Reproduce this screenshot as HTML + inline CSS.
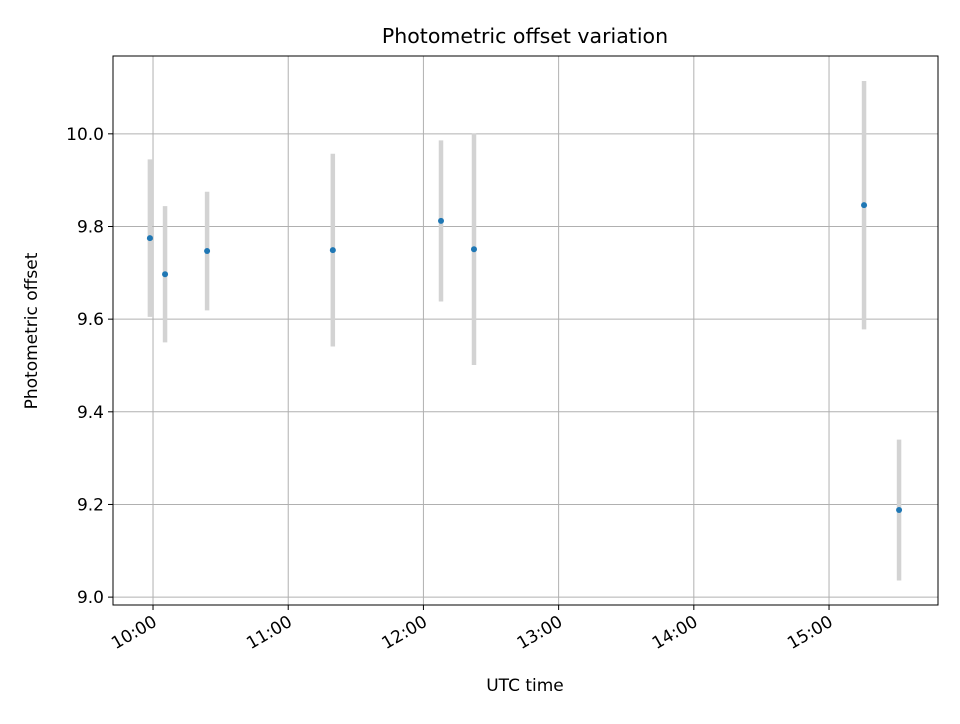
<!DOCTYPE html>
<html><head><meta charset="utf-8"><style>
body{margin:0;background:#fff;font-family:"DejaVu Sans","Liberation Sans",sans-serif}
</style></head><body>
<svg id="chart" width="960" height="720" xmlns="http://www.w3.org/2000/svg" style="font-family:'DejaVu Sans','Liberation Sans',sans-serif">
<rect width="960" height="720" fill="#fff"/>
<g id="grid"></g>
<g id="bars"></g>
<g id="pts"></g>
<rect x="113" y="56" width="825" height="549" fill="none" stroke="#000" stroke-width="1"/>
<g id="ticks"></g>
<text x="525" y="43" text-anchor="middle" style="font-size:20.5px">Photometric offset variation</text>
<text x="525" y="691" text-anchor="middle" style="font-size:17px">UTC time</text>
<text transform="translate(37,331) rotate(-90)" text-anchor="middle" style="font-size:17px">Photometric offset</text>
</svg>
<script>
const times=[9.977,10.089,10.40,11.33,12.13,12.374,15.259,15.518];
const values=[9.775,9.697,9.747,9.749,9.812,9.751,9.846,9.188];
const errors=[0.17,0.147,0.128,0.208,0.174,0.25,0.268,0.152];
const xTicks=[10,11,12,13,14,15];
const xTickLabels=["10:00","11:00","12:00","13:00","14:00","15:00"];
const yTicks=[9.0,9.2,9.4,9.6,9.8,10.0];
const yTickLabels=["9.0","9.2","9.4","9.6","9.8","10.0"];
const L=113,R=938,T=56,B=605,x0=9.704,x1=15.806,y0=8.983,y1=10.168;
const X=v=>L+(v-x0)/(x1-x0)*(R-L);
const Y=v=>B-(v-y0)/(y1-y0)*(B-T);
const NS="http://www.w3.org/2000/svg";
function mk(tag,attrs,parent){const e=document.createElementNS(NS,tag);for(const k in attrs)e.setAttribute(k,attrs[k]);parent.appendChild(e);return e;}
const grid=document.getElementById('grid'),ticks=document.getElementById('ticks'),bars=document.getElementById('bars'),pts=document.getElementById('pts');
xTicks.forEach((t,i)=>{const x=X(t);
 let g=mk('line',{x1:x,x2:x,y1:T,y2:B,stroke:'#b0b0b0','stroke-width':1},grid);
 
 let k=mk('line',{x1:x,x2:x,y1:B,y2:B+5,stroke:'#000'},ticks);
 
 let tx=mk('text',{x:0,y:0,'text-anchor':'end',style:'font-size:17px',transform:`translate(${x+5},${B+20}) rotate(-30)`},ticks);
 tx.textContent=xTickLabels[i];
 });
yTicks.forEach((t,i)=>{const y=Y(t);
 let g=mk('line',{x1:L,x2:R,y1:y,y2:y,stroke:'#b0b0b0','stroke-width':1},grid);
 
 let k=mk('line',{x1:L-5,x2:L,y1:y,y2:y,stroke:'#000'},ticks);
 
 let tx=mk('text',{x:L-9,y:y+6,'text-anchor':'end',style:'font-size:17px'},ticks);
 tx.textContent=yTickLabels[i];
 });
times.forEach((t,i)=>{const x=X(t);
 let b=mk('line',{x1:x,x2:x,y1:Y(values[i]+errors[i]),y2:Y(values[i]-errors[i]),stroke:'#d3d3d3','stroke-width':4.5},bars);
 
 let c=mk('circle',{cx:x,cy:Y(values[i]),r:3,fill:'#1f77b4'},pts);
 });
</script>
</body></html>
